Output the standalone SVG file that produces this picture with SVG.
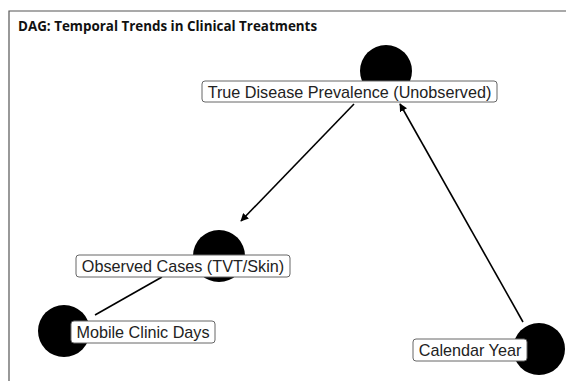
<svg xmlns="http://www.w3.org/2000/svg" width="566" height="381" viewBox="0 0 566 381">
<defs>
<style>
.node circle{fill:#000}
.node rect{fill:#fff;stroke:#666;stroke-width:1;}
.node text{font-family:"Liberation Sans",Arial,sans-serif;font-size:16.2px;fill:#222;text-anchor:middle}
.edge{stroke:#000;stroke-width:1.6;fill:none}
.title{font-family:"Open Sans","Liberation Sans",sans-serif;font-size:13.4px;font-weight:bold;fill:#111}
</style>
<marker id="arr" viewBox="0 0 10 10" refX="9" refY="5" markerWidth="8" markerHeight="8" orient="auto" markerUnits="userSpaceOnUse">
<path d="M0,0 L10,5 L0,10 Z" fill="#000"/>
</marker>
</defs>
<rect width="566" height="381" fill="#fff"/>
<path d="M9,381 V11 H566" fill="none" stroke="#555" stroke-width="1.2"/>
<text class="title" x="18" y="31">DAG: Temporal Trends in Clinical Treatments</text>
<g id="connectors">
<line class="edge" x1="354" y1="104" x2="241" y2="221" marker-end="url(#arr)"/>
<line class="edge" x1="523" y1="322" x2="400" y2="104" marker-end="url(#arr)"/>
<line class="edge" x1="162" y1="277" x2="95" y2="315"/>
</g>
<g id="node-true" class="node">
<circle cx="386" cy="71" r="26"/>
<rect x="202" y="81" width="295" height="21" rx="3"/>
<text x="349.5" y="97.5">True Disease Prevalence (Unobserved)</text>
</g>
<g id="node-observed" class="node">
<circle cx="219" cy="256" r="26"/>
<rect x="76" y="255" width="214" height="22" rx="3"/>
<text x="183" y="271.5">Observed Cases (TVT/Skin)</text>
</g>
<g id="node-mobile" class="node">
<circle cx="64" cy="331" r="26"/>
<rect x="71" y="321" width="144" height="22" rx="3"/>
<text x="143" y="337.5">Mobile Clinic Days</text>
</g>
<g id="node-year" class="node">
<circle cx="539" cy="349" r="26"/>
<rect x="413" y="339" width="114" height="22" rx="3"/>
<text x="470" y="355.5">Calendar Year</text>
</g>
</svg>
